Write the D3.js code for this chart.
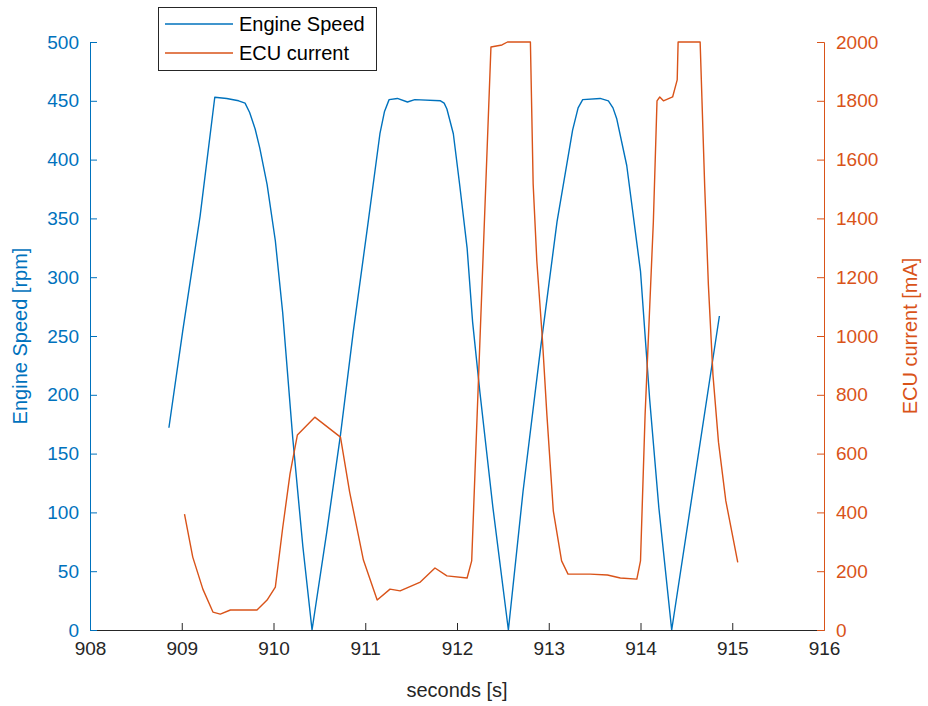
<!DOCTYPE html>
<html>
<head>
<meta charset="utf-8">
<script src="https://cdn.jsdelivr.net/npm/d3@7"></script>
<style>
  html, body { margin: 0; padding: 0; background: #fff; }
  svg { display: block; font-family: "Liberation Sans", Arial, Helvetica, sans-serif; }
</style>
</head>
<body>
<svg id="chart" width="928" height="706"></svg>
<script>
// Engine speed trace
const speedTime = [908.86, 909.01, 909.20, 909.36, 909.49, 909.62, 909.69, 909.74, 909.80, 909.85, 909.93, 910.02,
  910.10, 910.21, 910.32, 910.42, 910.58, 910.73, 910.87, 911.02, 911.16, 911.21, 911.26,
  911.35, 911.46, 911.54, 911.82, 911.86, 911.89, 911.96, 912.03, 912.11, 912.17, 912.25,
  912.39, 912.56, 912.72, 912.91, 913.09, 913.26, 913.32, 913.37, 913.56, 913.65, 913.70, 913.74,
  913.85, 914.00, 914.10, 914.20, 914.34, 914.86];
const speedRpm = [172, 254, 352, 453, 452, 450, 448, 440, 426, 410, 379, 331,
  270, 163, 71, 0, 83, 166, 254, 340, 422, 441, 451,
  452, 449, 451, 450, 448, 443, 422, 378, 325, 262, 202,
  105, 0, 118, 239, 347, 425, 444, 451, 452, 450, 444, 435,
  395, 305, 196, 104, 0, 267];

// ECU current trace
const currentTime = [909.03, 909.12, 909.23, 909.34, 909.42, 909.53, 909.71, 909.82, 909.93, 910.02,
  910.10, 910.18, 910.26, 910.45, 910.73, 910.83, 910.98, 911.13, 911.27, 911.38,
  911.60, 911.76, 911.89, 912.11, 912.16, 912.37, 912.49, 912.55, 912.80, 912.83,
  912.87, 912.93, 912.98, 913.05, 913.14, 913.21, 913.45, 913.64, 913.78, 913.96,
  914.00, 914.05, 914.14, 914.18, 914.21, 914.25, 914.35, 914.40, 914.41, 914.65,
  914.70, 914.74, 914.79, 914.85, 914.93, 915.06];
const currentMa = [394, 248, 139, 61, 54, 68, 68, 68, 102, 146,
  347, 531, 663, 724, 656, 469, 238, 102, 139, 133,
  163, 211, 184, 177, 235, 1983, 1990, 2000, 2000, 1517,
  1255, 993, 731, 404, 235, 190, 190, 187, 177, 173,
  235, 731, 1388, 1800, 1813, 1800, 1813, 1871, 2000, 2000,
  1507, 1173, 867, 639, 439, 230];

// Axis ticks
const xTicks = [908, 909, 910, 911, 912, 913, 914, 915, 916];
const speedTicks = [0, 50, 100, 150, 200, 250, 300, 350, 400, 450, 500];
const currentTicks = [0, 200, 400, 600, 800, 1000, 1200, 1400, 1600, 1800, 2000];

const seriesNames = ["Engine Speed", "ECU current"];
const axisLabels = { x: "seconds [s]", left: "Engine Speed [rpm]", right: "ECU current [mA]" };

const BLUE = "#0072BD", ORANGE = "#D95319", DARK = "#262626";
const FONT = "Liberation Sans, Arial, sans-serif";
const TICK_FONT = 19;

const svg = d3.select("#chart");
const plot = { left: 90, right: 824, top: 42, bottom: 630 };

const x = d3.scaleLinear().domain([908, 916]).range([plot.left, plot.right]);
const yL = d3.scaleLinear().domain([0, 500]).range([plot.bottom, plot.top]);
const yR = d3.scaleLinear().domain([0, 2000]).range([plot.bottom, plot.top]);

svg.append("defs").append("clipPath").attr("id", "plotClip")
  .append("rect").attr("x", plot.left).attr("y", plot.top - 1)
  .attr("width", plot.right - plot.left).attr("height", plot.bottom - plot.top + 2);

// Data lines
const speedLine = d3.line().x((d, i) => x(speedTime[i])).y(d => yL(d));
const currentLine = d3.line().x((d, i) => x(currentTime[i])).y(d => yR(d));

const lines = svg.append("g").attr("clip-path", "url(#plotClip)");
lines.append("path").attr("d", speedLine(speedRpm))
  .attr("fill", "none").attr("stroke", BLUE).attr("stroke-width", 1.4).attr("stroke-linejoin", "round");
lines.append("path").attr("d", currentLine(currentMa))
  .attr("fill", "none").attr("stroke", ORANGE).attr("stroke-width", 1.4).attr("stroke-linejoin", "round");

// Axes
const TICK = 7;
const fmt = d3.format("d");

const xAxis = svg.append("g").attr("transform", `translate(0,${plot.bottom})`)
  .call(d3.axisBottom(x).tickValues(xTicks).tickFormat(fmt).tickSizeInner(-TICK).tickSizeOuter(0).tickPadding(12));
xAxis.select(".domain").attr("stroke", DARK);
xAxis.selectAll(".tick line").attr("stroke", DARK);
xAxis.selectAll(".tick text").attr("fill", DARK).attr("font-size", TICK_FONT).attr("font-family", FONT);

const lAxis = svg.append("g").attr("transform", `translate(${plot.left},0)`)
  .call(d3.axisLeft(yL).tickValues(speedTicks).tickFormat(fmt).tickSizeInner(-TICK).tickSizeOuter(-TICK).tickPadding(11));
lAxis.select(".domain").attr("stroke", BLUE);
lAxis.selectAll(".tick line").attr("stroke", BLUE);
lAxis.selectAll(".tick text").attr("fill", BLUE).attr("font-size", TICK_FONT).attr("font-family", FONT);

const rAxis = svg.append("g").attr("transform", `translate(${plot.right},0)`)
  .call(d3.axisRight(yR).tickValues(currentTicks).tickFormat(fmt).tickSizeInner(-TICK).tickSizeOuter(-TICK).tickPadding(12));
rAxis.select(".domain").attr("stroke", ORANGE);
rAxis.selectAll(".tick line").attr("stroke", ORANGE);
rAxis.selectAll(".tick text").attr("fill", ORANGE).attr("font-size", TICK_FONT).attr("font-family", FONT);

// Axis titles
svg.append("text").attr("x", (plot.left + plot.right) / 2).attr("y", 697)
  .attr("text-anchor", "middle").attr("font-size", 20).attr("fill", DARK).text(axisLabels.x);
svg.append("text").attr("transform", `translate(27,${(plot.top + plot.bottom) / 2}) rotate(-90)`)
  .attr("text-anchor", "middle").attr("font-size", 20).attr("fill", BLUE).text(axisLabels.left);
svg.append("text").attr("transform", `translate(917,${(plot.top + plot.bottom) / 2}) rotate(-90)`)
  .attr("text-anchor", "middle").attr("font-size", 20).attr("fill", ORANGE).text(axisLabels.right);

// Legend
const legend = svg.append("g").attr("transform", "translate(158,7)");
legend.append("rect").attr("x", 0.5).attr("y", 0.5).attr("width", 218).attr("height", 63)
  .attr("fill", "#fff").attr("stroke", DARK).attr("stroke-width", 1);
[BLUE, ORANGE].forEach((c, i) => {
  const yy = 17 + i * 29;
  legend.append("line").attr("x1", 7).attr("x2", 75).attr("y1", yy).attr("y2", yy)
    .attr("stroke", c).attr("stroke-width", 1.4);
  legend.append("text").attr("x", 81).attr("y", yy).attr("dy", "0.35em")
    .attr("font-size", 20).attr("fill", "#000").text(seriesNames[i]);
});
</script>
</body>
</html>
